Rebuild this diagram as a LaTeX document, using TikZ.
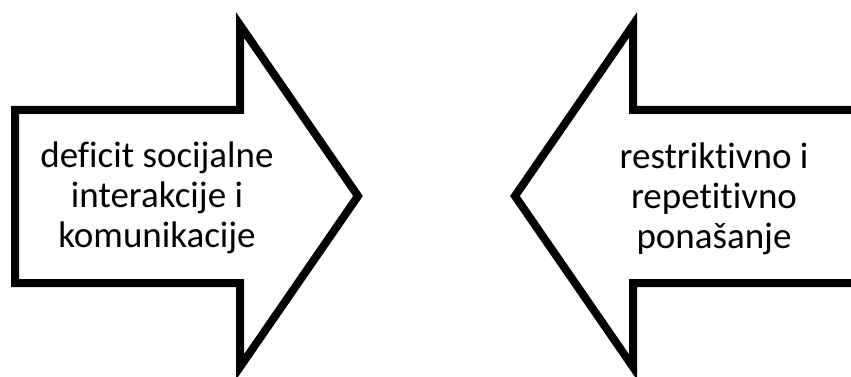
\documentclass[tikz,border=0pt]{standalone}
\usepackage{fontspec}
\setmainfont[Ligatures={NoCommon}]{Carlito}
\usetikzlibrary{shadows}
\begin{document}
\begin{tikzpicture}[x=1pt,y=-1pt,
  blockarrow/.style={draw=black,line width=8pt,line join=miter,miter limit=20,fill=white,
    drop shadow={opacity=0.25,shadow xshift=2pt,shadow yshift=-3pt}},
  label/.style={align=center,font=\fontsize{37}{40}\selectfont,inner sep=0pt}]
\useasboundingbox[fill=white] (0,0) rectangle (851,377);
\path[blockarrow] (15,110) -- (240,110) -- (240,25) -- (358,196) -- (240,367) -- (240,283) -- (15,283) -- cycle;
\path[blockarrow] (870,110) -- (633,110) -- (633,25) -- (515,196) -- (633,367) -- (633,283) -- (870,283) -- cycle;
\node[label,anchor=base] (left) at (157,247) {deficit socijalne\\interakcije i\\komunikacije};
\node[label,anchor=base] (right) at (714,248) {restriktivno i\\repetitivno\\ponašanje};
\end{tikzpicture}
\end{document}
